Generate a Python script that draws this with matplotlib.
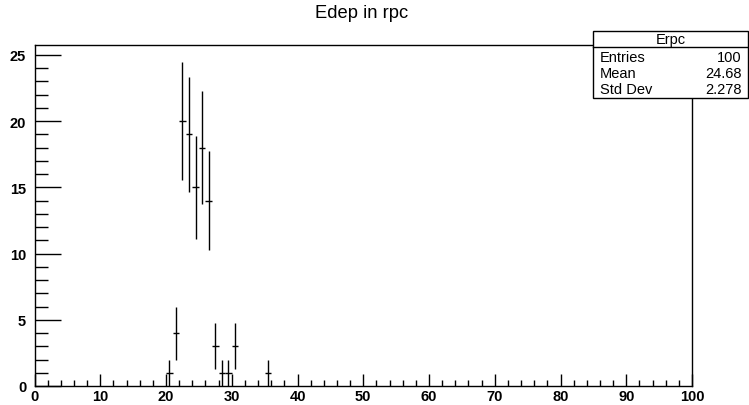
import numpy as np
import matplotlib
matplotlib.use("Agg")
import matplotlib.pyplot as plt
from matplotlib.patches import Rectangle
from matplotlib.ticker import MultipleLocator

# Histogram data (100 bins, 0..100)
bin_centers = [20.5, 21.5, 22.5, 23.5, 24.5, 25.5, 26.5, 27.5, 28.5, 29.5, 30.5, 35.5]
counts = [1, 4, 20, 19, 15, 18, 14, 3, 1, 1, 3, 1]
bin_width = 1.0
title = "Edep in rpc"
stats_name = "Erpc"
stats_labels = ["Entries", "Mean", "Std Dev"]
stats_values = ["100", "24.68", "2.278"]

W, H = 749, 406
fig = plt.figure(figsize=(W / 100, H / 100), dpi=100)
plt.rcParams['font.family'] = ['Liberation Sans', 'DejaVu Sans']

L, R, B, T = 34.5, 692, 387, 46
ax = fig.add_axes([L / W, (H - B) / H, (R - L) / W, (B - T) / H])
ax.set_xlim(0, 100)
ax.set_ylim(0, 25.75)

x = np.array(bin_centers)
y = np.array(counts, dtype=float)
err = np.sqrt(y)
ax.errorbar(x, y, yerr=err, xerr=bin_width / 2, fmt='none', ecolor='black',
            elinewidth=1.0, capsize=0)

for s in ['top', 'right', 'left', 'bottom']:
    ax.spines[s].set_linewidth(1.0)

ax.xaxis.set_major_locator(MultipleLocator(10))
ax.xaxis.set_minor_locator(MultipleLocator(2))
ax.yaxis.set_major_locator(MultipleLocator(5))
ax.yaxis.set_minor_locator(MultipleLocator(1))
ax.tick_params(axis='x', which='major', direction='in', length=9, width=1, pad=2)
ax.tick_params(axis='x', which='minor', direction='in', length=4.5, width=1)
ax.tick_params(axis='y', which='major', direction='in', length=19, width=1, pad=6)
ax.tick_params(axis='y', which='minor', direction='in', length=9.5, width=1)
for lab in ax.get_xticklabels() + ax.get_yticklabels():
    lab.set_fontweight('bold')
    lab.set_fontsize(10.5)

# Title
fig.text(362 / W, 1 - 14 / H, title, ha='center', va='center', fontsize=13.2)

# Stats box
bx0, bx1, by0, bsep, by1 = 593, 748, 32, 47.5, 99
fig.patches.append(Rectangle((bx0 / W, 1 - by1 / H), (bx1 - bx0) / W, (by1 - by0) / H,
                             transform=fig.transFigure, facecolor='white',
                             edgecolor='black', linewidth=1, zorder=5))
fig.lines.append(plt.Line2D([bx0 / W, bx1 / W], [1 - bsep / H, 1 - bsep / H],
                            transform=fig.transFigure, color='black', linewidth=1, zorder=6))
fig.text((bx0 + bx1) / 2 / W, 1 - 40 / H, stats_name, ha='center', va='center',
         fontsize=10.5, zorder=7)
row_y = [58, 74.5, 90]
for lab, val, yy in zip(stats_labels, stats_values, row_y):
    fig.text(600 / W, 1 - yy / H, lab, ha='left', va='center', fontsize=10.5, zorder=7)
    fig.text(742 / W, 1 - yy / H, val, ha='right', va='center', fontsize=10.5, zorder=7)

fig.savefig("out.png", dpi=100)
